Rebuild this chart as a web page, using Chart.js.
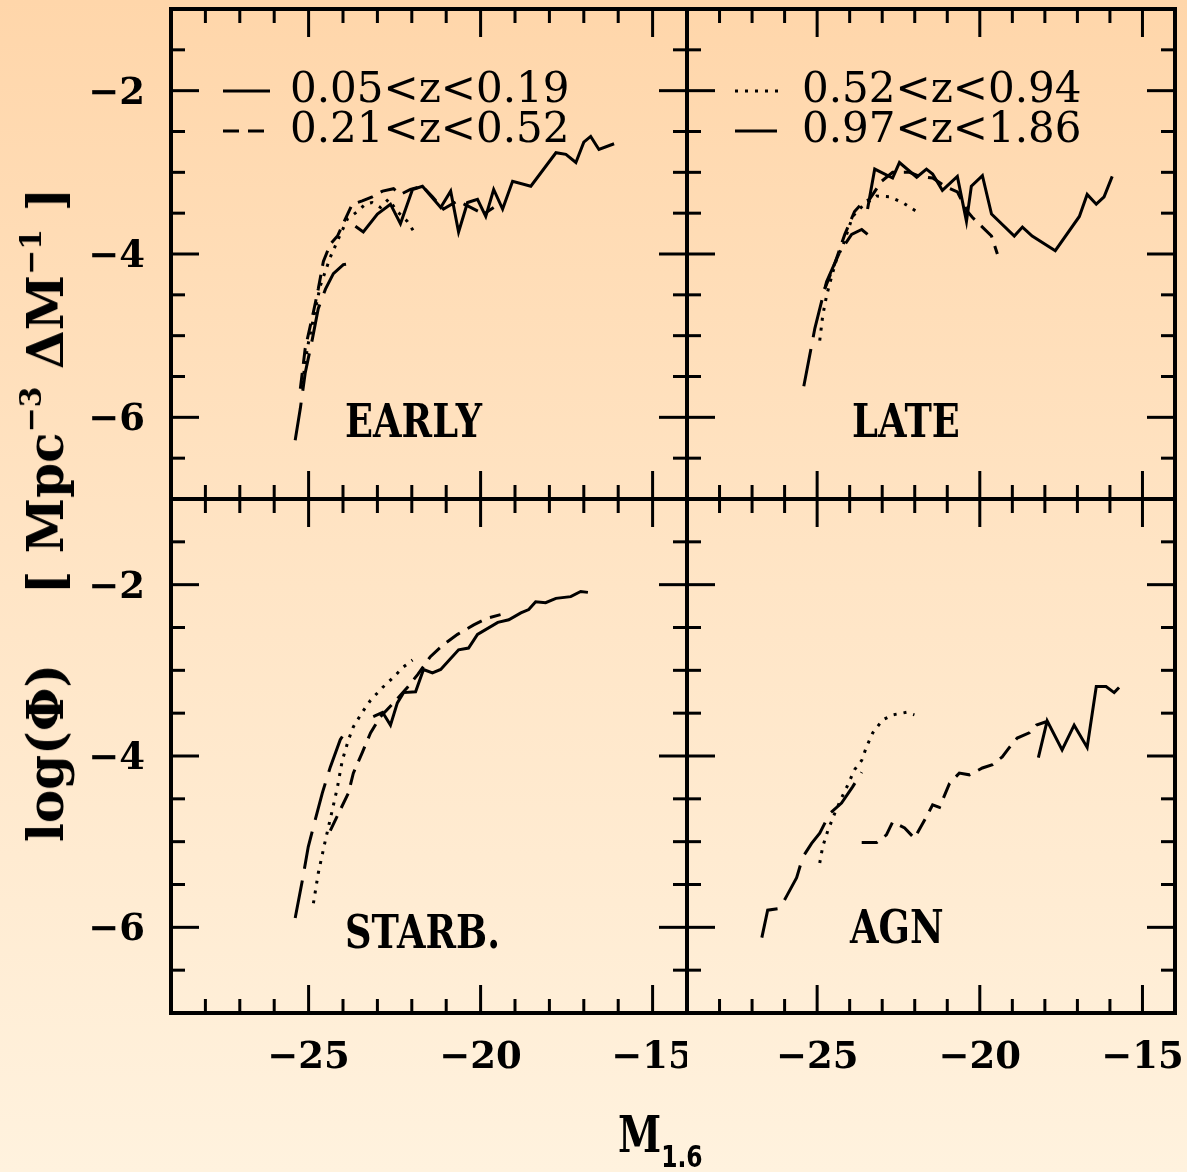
<!DOCTYPE html>
<html>
<head>
<meta charset="utf-8">
<script src="https://cdn.jsdelivr.net/npm/chart.js@4/dist/chart.umd.min.js"></script>
<style>
    html, body { margin: 0; padding: 0; }
    body {
        width: 1187px; height: 1172px; overflow: hidden; position: relative;
        background: linear-gradient(to bottom, #ffd6aa 0%, #ffe5c6 50%, #fff2de 100%);
    }
    canvas { position: absolute; }
    #yTitle {
        position: absolute; left: 46px; top: 515px;
        transform: translate(-50%, -50%) rotate(-90deg);
        font: bold 50px "DejaVu Serif"; white-space: nowrap; line-height: 1; color: #000;
    }
    #yTitle sup { font-size: 0.6em; vertical-align: 0.75em; line-height: 0; }
    #xTitle {
        position: absolute; left: 618px; top: 1110px;
        transform: scaleX(0.78); transform-origin: left top;
        font: bold 50px "DejaVu Serif"; white-space: nowrap; line-height: 1; color: #000;
    }
    #xTitle sub { font: bold 30px "DejaVu Sans"; vertical-align: -0.5em; line-height: 0; }
</style>
</head>
<body>
<canvas id="early" width="687" height="499" style="left:0;top:0"></canvas>
<canvas id="late" width="500" height="499" style="left:687px;top:0"></canvas>
<canvas id="starb" width="687" height="673" style="left:0;top:499px"></canvas>
<canvas id="agn" width="500" height="673" style="left:687px;top:499px"></canvas>
<div id="yTitle">log(Φ)&nbsp;&nbsp;&nbsp;&nbsp;[ Mpc<sup>−3</sup> ΔM<sup>−1</sup> ]</div>
<div id="xTitle">M<sub>1.6</sub></div>
<script>
const xTicks = [-25, -20, -15];
const yTicks = [-2, -4, -6];
const zBins = ["0.05<z<0.19", "0.21<z<0.52", "0.52<z<0.94", "0.97<z<1.86"];
const panelNames = ["EARLY", "LATE", "STARB.", "AGN"];

// [M_1.6, log(phi)] per redshift bin
const earlyZ1 = [[-23.64,-3.66],[-23.41,-3.73],[-23.0,-3.51],[-22.62,-3.39],[-22.33,-3.63],[-21.98,-3.21],[-21.69,-3.17],[-21.16,-3.43],[-20.87,-3.23],[-20.64,-3.73],[-20.38,-3.37],[-20.09,-3.33],[-19.85,-3.54],[-19.62,-3.21],[-19.36,-3.45],[-19.07,-3.11],[-18.54,-3.17],[-17.81,-2.76],[-17.52,-2.78],[-17.23,-2.88],[-17.0,-2.63],[-16.8,-2.56],[-16.56,-2.72],[-16.12,-2.65]];
const earlyZ2 = [[-25.24,-5.65],[-25.1,-5.16],[-24.86,-4.71],[-24.72,-4.43],[-24.57,-4.09],[-24.37,-3.88],[-24.16,-3.78],[-23.93,-3.57],[-23.73,-3.39],[-23.44,-3.35],[-23.15,-3.3],[-22.85,-3.23],[-22.53,-3.2],[-22.33,-3.27],[-22.04,-3.21],[-21.69,-3.17],[-21.4,-3.3],[-21.08,-3.45],[-20.67,-3.35],[-20.29,-3.43],[-19.91,-3.51],[-19.62,-3.43]];
const earlyZ3 = [[-25.18,-5.59],[-25.04,-5.16],[-24.86,-4.79],[-24.66,-4.39],[-24.37,-4.04],[-24.14,-3.82],[-23.87,-3.57],[-23.58,-3.48],[-23.35,-3.39],[-23.15,-3.37],[-22.91,-3.43],[-22.68,-3.33],[-22.42,-3.48],[-22.13,-3.6],[-21.95,-3.72]];
const earlyZ4 = [[-25.39,-6.28],[-25.24,-5.89],[-25.1,-5.46],[-24.89,-5.04],[-24.72,-4.67],[-24.51,-4.43],[-24.28,-4.24],[-23.99,-4.13],[-23.58,-4.1]];

const lateZ1 = [[-23.45,-3.45],[-23.23,-2.96],[-22.68,-3.07],[-22.47,-2.88],[-21.94,-3.06],[-21.64,-2.96],[-21.45,-3.02],[-21.15,-3.22],[-20.69,-3.05],[-20.41,-3.6],[-20.26,-3.17],[-19.92,-3.04],[-19.64,-3.51],[-18.94,-3.78],[-18.69,-3.67],[-18.39,-3.78],[-17.68,-3.96],[-16.94,-3.54],[-16.7,-3.27],[-16.42,-3.39],[-16.18,-3.3],[-15.93,-3.05]];
const lateZ2 = [[-24.77,-4.43],[-24.46,-4.12],[-24.15,-3.76],[-23.85,-3.48],[-23.6,-3.37],[-23.39,-3.33],[-23.02,-3.11],[-22.68,-3.0],[-22.16,-3.0],[-21.85,-3.05],[-21.45,-3.07],[-21.02,-3.18],[-20.69,-3.24],[-20.38,-3.48],[-20.23,-3.55],[-19.92,-3.67],[-19.64,-3.78],[-19.46,-4.0]];
const lateZ3 = [[-24.92,-5.06],[-24.83,-4.76],[-24.71,-4.51],[-24.55,-4.27],[-24.4,-4.06],[-24.21,-3.9],[-23.91,-3.54],[-23.6,-3.41],[-23.17,-3.29],[-22.77,-3.3],[-22.37,-3.37],[-21.94,-3.48]];
const lateZ4 = [[-25.41,-5.62],[-25.07,-4.91],[-24.71,-4.34],[-24.31,-3.98],[-23.94,-3.76],[-23.63,-3.7],[-23.45,-3.76]];

const starbZ1 = [[-23.12,-3.54],[-22.85,-3.49],[-22.62,-3.64],[-22.42,-3.38],[-22.24,-3.26],[-21.89,-3.25],[-21.66,-2.99],[-21.4,-3.03],[-21.16,-2.99],[-20.64,-2.76],[-20.35,-2.74],[-20.09,-2.58],[-19.5,-2.44],[-19.18,-2.41],[-18.83,-2.33],[-18.6,-2.29],[-18.4,-2.2],[-18.11,-2.21],[-17.81,-2.16],[-17.38,-2.14],[-17.09,-2.08],[-16.88,-2.09]];
const starbZ2 = [[-24.37,-4.87],[-23.84,-4.43],[-23.7,-4.2],[-23.44,-3.96],[-23.2,-3.73],[-22.91,-3.54],[-22.53,-3.38],[-22.13,-3.2],[-21.83,-3.05],[-21.46,-2.84],[-21.08,-2.7],[-20.67,-2.58],[-20.2,-2.47],[-19.8,-2.39],[-19.42,-2.35]];
const starbZ3 = [[-24.86,-5.72],[-24.72,-5.37],[-24.51,-4.98],[-24.31,-4.63],[-24.16,-4.36],[-24.02,-4.05],[-23.84,-3.81],[-23.7,-3.66],[-23.44,-3.49],[-23.2,-3.35],[-22.85,-3.2],[-22.53,-3.08],[-22.24,-2.96],[-21.98,-2.88]];
const starbZ4 = [[-25.39,-5.89],[-25.18,-5.45],[-25.01,-5.06],[-24.81,-4.75],[-24.6,-4.43],[-24.37,-4.13],[-24.08,-3.81],[-23.84,-3.66]];

const agnZ1 = [[-18.2,-4.02],[-17.93,-3.59],[-17.47,-3.93],[-17.1,-3.64],[-16.7,-3.9],[-16.42,-3.19],[-16.12,-3.19],[-15.87,-3.26],[-15.72,-3.2]];
const agnZ2 = [[-23.63,-5.01],[-23.17,-5.01],[-22.87,-4.92],[-22.68,-4.77],[-22.31,-4.84],[-22.01,-4.96],[-21.64,-4.71],[-21.45,-4.57],[-21.24,-4.6],[-20.93,-4.32],[-20.63,-4.2],[-20.32,-4.22],[-19.92,-4.14],[-19.61,-4.1],[-19.31,-4.01],[-19.09,-3.9],[-18.85,-3.79],[-18.48,-3.73],[-18.26,-3.64],[-17.96,-3.6]];
const agnZ3 = [[-24.92,-5.25],[-24.83,-5.06],[-24.67,-4.87],[-24.46,-4.67],[-24.25,-4.49],[-24.06,-4.34],[-23.85,-4.16],[-23.63,-4.05],[-23.48,-3.89],[-23.29,-3.73],[-22.99,-3.58],[-22.68,-3.52],[-22.25,-3.49],[-22.01,-3.52]];
const agnZ4 = [[-26.7,-6.12],[-26.52,-5.8],[-26.15,-5.78],[-25.93,-5.63],[-25.63,-5.42],[-25.44,-5.18],[-25.17,-5.02],[-24.92,-4.9],[-24.61,-4.67],[-24.25,-4.55],[-23.91,-4.36],[-23.63,-4.19]];

const lineStyles = [[], [16, 9], [3, 7], [38, 12]];

const panels = {
    early: { name: 0, series: [earlyZ1, earlyZ2, earlyZ3, earlyZ4], padding: { left: 171, top: 9, right: 0, bottom: 0 },
             yLabels: true, legend: [0, 1], legendX: 52, nameX: 174, nameY: 428 },
    late:  { name: 1, series: [lateZ1, lateZ2, lateZ3, lateZ4], padding: { left: 0, top: 9, right: 12, bottom: 0 },
             legend: [2, 3], legendX: 48, nameX: 165, nameY: 428 },
    starb: { name: 2, series: [starbZ1, starbZ2, starbZ3, starbZ4], padding: { left: 171, top: 0, right: 0, bottom: 159 },
             yLabels: true, xLabels: true, nameX: 174, nameY: 449 },
    agn:   { name: 3, series: [agnZ1, agnZ2, agnZ3, agnZ4], padding: { left: 0, top: 0, right: 12, bottom: 159 },
             xLabels: true, nameX: 163, nameY: 444 }
};

const frameTicks = {
    id: "frameTicks",
    afterDatasetsDraw(chart) {
        const cfg = panels[chart.canvas.id];
        const { ctx, chartArea: a, scales: { x, y } } = chart;
        const seg = (x1, y1, x2, y2) => { ctx.beginPath(); ctx.moveTo(x1, y1); ctx.lineTo(x2, y2); ctx.stroke(); };
        ctx.save();
        ctx.strokeStyle = "#000";
        ctx.fillStyle = "#000";
        ctx.lineCap = "butt";
        ctx.lineWidth = 3;
        for (let v = -28; v <= -15; v++) {
            const px = x.getPixelForValue(v);
            const len = v % 5 === 0 ? 28 : 14;
            seg(px, a.top, px, a.top + len);
            seg(px, a.bottom, px, a.bottom - len);
        }
        for (let v = -6.5; v <= -1.5; v += 0.5) {
            const py = y.getPixelForValue(v);
            const len = v % 2 === 0 ? 28 : 14;
            seg(a.left, py, a.left + len, py);
            seg(a.right, py, a.right - len, py);
        }
        ctx.lineWidth = 4;
        ctx.strokeRect(a.left, a.top, a.right - a.left, a.bottom - a.top);

        ctx.font = 'bold 37px "DejaVu Serif"';
        if (cfg.yLabels) {
            ctx.textAlign = "right";
            ctx.textBaseline = "alphabetic";
            yTicks.forEach(v => ctx.fillText("\u2212" + Math.abs(v), a.left - 26, y.getPixelForValue(v) + 13));
        }
        if (cfg.xLabels) {
            ctx.textAlign = "center";
            ctx.textBaseline = "alphabetic";
            xTicks.forEach(v => ctx.fillText("\u2212" + Math.abs(v), x.getPixelForValue(v), a.bottom + 55));
        }

        if (cfg.legend) {
            cfg.legend.forEach((idx, row) => {
                const yy = a.top + 82 + row * 40;
                ctx.lineWidth = 3;
                ctx.setLineDash(idx === 3 ? [] : lineStyles[idx]);
                seg(a.left + cfg.legendX, yy, a.left + cfg.legendX + (idx === 3 ? 42 : 47), yy);
                ctx.setLineDash([]);
                ctx.font = '42px "DejaVu Serif"';
                ctx.textAlign = "left";
                ctx.fillText(zBins[idx], a.left + cfg.legendX + 67, yy + 11);
            });
        }

        ctx.save();
        ctx.font = 'bold 46px "DejaVu Serif"';
        ctx.textAlign = "left";
        ctx.textBaseline = "alphabetic";
        ctx.scale(0.8, 1);
        ctx.fillText(panelNames[cfg.name], (a.left + cfg.nameX) / 0.8, a.top + cfg.nameY);
        ctx.restore();
        ctx.restore();
    }
};

Object.entries(panels).forEach(([id, cfg]) => {
    new Chart(document.getElementById(id), {
        type: "scatter",
        data: {
            datasets: cfg.series.map((pts, i) => ({
                label: zBins[i],
                data: pts.map(([m, phi]) => ({ x: m, y: phi })),
                showLine: true,
                pointRadius: 0,
                borderColor: "#000",
                borderWidth: 3,
                borderDash: lineStyles[i],
                borderCapStyle: "butt",
                fill: false,
                tension: 0
            }))
        },
        options: {
            responsive: false,
            animation: false,
            events: [],
            layout: { padding: cfg.padding },
            plugins: { legend: { display: false }, tooltip: { enabled: false } },
            scales: {
                x: { type: "linear", min: -29, max: -14, display: false },
                y: { type: "linear", min: -7, max: -1, display: false }
            }
        },
        plugins: [frameTicks]
    });
});
</script>
</body>
</html>
